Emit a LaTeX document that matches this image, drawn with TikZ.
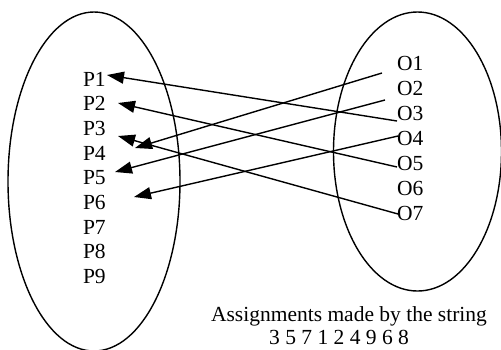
\documentclass[tikz,border=0pt]{standalone}
\usepackage{fontspec}
\setmainfont{Liberation Serif}
\usetikzlibrary{arrows.meta}
\begin{document}
\begin{tikzpicture}[x=1pt,y=-1pt,
  lbl/.style={inner sep=0pt,outer sep=0pt,font=\fontsize{21.5}{24}\selectfont},
  ring/.style={draw=black,line width=1.4pt},
  arr/.style={draw=black,line width=1.4pt,-{Triangle[length=17pt,width=12pt]}}]
\useasboundingbox (0,0) rectangle (501,349);
\draw[ring] (94,181.5) ellipse [x radius=86, y radius=169.5];
\draw[ring] (417.5,151.5) ellipse [x radius=84, y radius=139.5];
\foreach \i in {1,...,9}
  \node[lbl,anchor=west] (P\i) at (83,{79+(\i-1)*24.7}) {P\i};
\foreach \j in {1,...,7}
  \node[lbl,anchor=west] (O\j) at (397,{63+(\j-1)*25}) {O\j};
\draw[arr] ([shift={(0,8)}]O3.west) -- ([shift={(1.3,-4)}]P1.east);
\draw[arr] ([shift={(0,4)}]O5.west) -- ([shift={(12.3,-0.7)}]P2.east);
\draw[arr] ([shift={(1,1)}]O7.west) -- ([shift={(12.3,7.6)}]P3.east);
\draw[arr] ([shift={(-15,10)}]O1.west) -- ([shift={(29.3,-5.1)}]P4.east);
\draw[arr] ([shift={(-12,12)}]O2.west) -- ([shift={(9.3,-5.8)}]P5.east);
\draw[arr] ([shift={(1,-2)}]O4.west) -- ([shift={(28.3,-5.5)}]P6.east);
\node[lbl,anchor=base] (cap) at (349,321) {Assignments made by the string};
\node[lbl,anchor=base] (str) at (339,344.5) {3 5 7 1 2 4 9 6 8};
\end{tikzpicture}
\end{document}
